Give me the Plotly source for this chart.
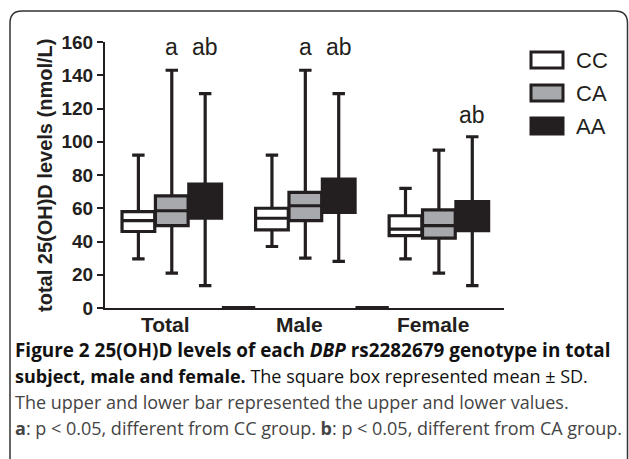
import plotly.graph_objects as go

# ---- data ----
groups = ["Total", "Male", "Female"]
genotypes = ["CC", "CA", "AA"]
# values per group, ordered CC, CA, AA
upper = {"Total": [92, 143, 129], "Male": [92, 143, 129], "Female": [72, 95, 103]}
sd_hi = {"Total": [58, 67.5, 74.5], "Male": [60, 69.5, 77.5], "Female": [55.5, 59, 64]}
mean = {"Total": [52.5, 58.5, 64], "Male": [54, 61.5, 67.5], "Female": [47.5, 49.5, 55]}
sd_lo = {"Total": [46, 49.5, 54], "Male": [47, 52.5, 57.5], "Female": [43.5, 42, 46.5]}
lower = {"Total": [29.5, 21, 13.5], "Male": [37, 30, 28], "Female": [29.5, 21, 13.5]}
sig = {"Total": ["", "a", "ab"], "Male": ["", "a", "ab"], "Female": ["", "", "ab"]}
sig_level = {"Total": 157, "Male": 157, "Female": 116}
gap_values = [0, 0]
y_ticks = [0, 20, 40, 60, 80, 100, 120, 140, 160]
fills = {"CC": "#ffffff", "CA": "#a7a9ac", "AA": "#231f20"}
INK = "#231f20"
FONT = "Liberation Sans, Arial"

# page-pixel helpers (plot area: x 105..504, y 42..308 in page pixels)
def px(x):
    return (x - 105) / 399

def py(y):
    return (308 - y) / 266

fig = go.Figure()
for gi, g in enumerate(groups):
    for k, gt in enumerate(genotypes):
        pos = gi * 4 + k
        fig.add_trace(go.Box(
            x=[pos], q1=[sd_lo[g][k]], median=[mean[g][k]], q3=[sd_hi[g][k]],
            lowerfence=[lower[g][k]], upperfence=[upper[g][k]],
            width=0.98, whiskerwidth=0.38,
            fillcolor=fills[gt], line=dict(color=INK, width=3.2),
            showlegend=False, hoverinfo="skip", boxpoints=False,
        ))
        if sig[g][k]:
            fig.add_annotation(x=pos, y=sig_level[g], text=sig[g][k], yanchor="middle",
                               showarrow=False, font=dict(family=FONT, size=23, color=INK))
    # group label
    fig.add_annotation(x=gi * 4 + 1, y=0, yshift=-16, xshift=-6, text="<b>%s</b>" % g,
                       yanchor="middle", showarrow=False,
                       font=dict(family=FONT, size=21, color=INK))

# zero bars in the gaps between groups
for j, v in enumerate(gap_values):
    c = j * 4 + 3
    fig.add_trace(go.Scatter(x=[c - 0.5, c + 0.5], y=[v, v], mode="lines",
                             line=dict(color=INK, width=4), cliponaxis=False,
                             showlegend=False, hoverinfo="skip"))

# legend (custom)
for i, gt in enumerate(genotypes):
    yc = 60 + i * 33
    fig.add_shape(type="rect", xref="paper", yref="paper",
                  x0=px(531), x1=px(563), y0=py(yc + 8), y1=py(yc - 8),
                  fillcolor=fills[gt], line=dict(color=INK, width=3), layer="above")
    fig.add_annotation(xref="paper", yref="paper", x=px(574), y=py(yc),
                       xanchor="left", yanchor="middle", text=gt, showarrow=False,
                       font=dict(family=FONT, size=22, color=INK))

# y axis title
fig.add_annotation(xref="paper", yref="paper", x=px(45), y=py(176),
                   text="<b>total 25(OH)D levels (nmol/L)</b>", textangle=-90, showarrow=False,
                   xanchor="center", yanchor="middle",
                   font=dict(family=FONT, size=20, color=INK))

# caption
cap_font = "Open Sans"
caption = [
    "<b>Figure 2 25(OH)D levels of each <i>DBP</i> rs2282679 genotype in total</b>",
    "<b>subject, male and female.</b> The square box represented mean ± SD.",
    "The upper and lower bar represented the upper and lower values.",
    "<b>a</b>: p &lt; 0.05, different from CC group. <b>b</b>: p &lt; 0.05, different from CA group.",
]
cap_sizes = [18.9, 18, 18, 18]
for i, line in enumerate(caption):
    yc = 350 + i * 26
    fig.add_annotation(xref="paper", yref="paper", x=px(13), y=py(yc),
                       xanchor="left", yanchor="middle", text=line, showarrow=False,
                       font=dict(family=cap_font, size=cap_sizes[i],
                                 color="#111111" if i < 2 else "#444444"))

# outer rounded frame
fig.add_shape(type="path", xref="paper", yref="paper",
              path="M {x0},{yb} L {x0},{yt0} Q {x0},{yt} {x1},{yt} L {x2},{yt} Q {x3},{yt} {x3},{yt0} L {x3},{yb}".format(
                  x0=px(10), x1=px(22), x2=px(615), x3=px(627.5),
                  yt=py(11), yt0=py(23), yb=py(470)),
              line=dict(color="#333333", width=1.5))

fig.update_layout(
    width=629, height=459,
    margin=dict(l=105, r=125, t=42, b=151),
    paper_bgcolor="white", plot_bgcolor="white",
    showlegend=False,
    xaxis=dict(range=[-1, 10.95], showticklabels=False, showgrid=False,
               zeroline=False, showline=True, linecolor=INK, linewidth=2, ticks="",
               fixedrange=True),
    yaxis=dict(range=[0, 160], tickvals=y_ticks, ticktext=["<b>%d</b>" % t for t in y_ticks],
               showgrid=False, zeroline=False,
               showline=True, linecolor=INK, linewidth=2, ticks="outside", ticklen=6,
               tickwidth=2, tickcolor=INK,
               tickfont=dict(family=FONT, size=19, color=INK),
               fixedrange=True),
)

fig.write_html("out.html", config={"displayModeBar": False},
               post_script="document.body.style.margin='0';document.body.style.overflow='hidden';")
